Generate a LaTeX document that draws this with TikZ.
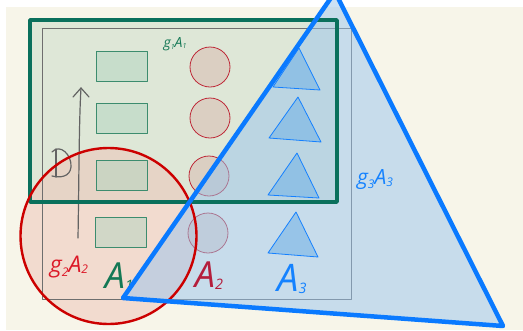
\documentclass[tikz,border=0pt]{standalone}
\usepackage{fontspec}
\newfontfamily\hand{Open Sans}
\definecolor{bgc}{RGB}{247,245,233}
\definecolor{grn}{RGB}{10,112,92}
\definecolor{grnfill}{RGB}{199,219,199}
\definecolor{redc}{RGB}{204,0,0}
\definecolor{redfill}{RGB}{239,195,183}
\definecolor{bluec}{RGB}{10,122,255}
\definecolor{bluefill}{RGB}{153,197,237}
\definecolor{srect}{RGB}{60,140,110}
\definecolor{srectfill}{RGB}{178,212,192}
\definecolor{scirc}{RGB}{190,40,55}
\definecolor{scircfill}{RGB}{217,184,174}
\definecolor{stri}{RGB}{20,128,255}
\definecolor{strifill}{RGB}{104,174,230}
\definecolor{grayline}{RGB}{110,110,110}
\definecolor{labgreen}{RGB}{20,120,85}
\definecolor{labred}{RGB}{220,25,40}
\definecolor{labdred}{RGB}{180,30,60}
\definecolor{labblue}{RGB}{20,130,255}
\begin{document}
\begin{tikzpicture}[x=1pt,y=-1pt,line join=round,
  bigrectfill/.style={fill=grnfill,fill opacity=0.5},
  bigrectline/.style={draw=grn,line width=3.5pt},
  grayrect/.style={draw=grayline,line width=0.9pt},
  bigcirc/.style={circle,fill=redfill,fill opacity=0.5,minimum size=176pt,inner sep=0pt},
  bigcircline/.style={draw=redc,line width=2.4pt},
  bigtrifill/.style={fill=bluefill,fill opacity=0.5},
  bigtriline/.style={draw=bluec,line width=4.5pt},
  srectst/.style={rectangle,draw=srect,line width=0.9pt,fill=srectfill,fill opacity=0.5,minimum width=51pt,minimum height=30pt,inner sep=0pt},
  scircst/.style={circle,draw=scirc,line width=0.8pt,fill=scircfill,fill opacity=0.5,minimum size=40pt,inner sep=0pt},
  stristyle/.style={draw=stri,line width=0.8pt,fill=strifill,fill opacity=0.5},
  sketch/.style={draw=grayline!90!black,line width=1.2pt,line cap=round},
  lab/.style={inner sep=0pt,font=\hand\itshape}]
\useasboundingbox (0,0) rectangle (523,330);
\clip (0,0) rectangle (523,330);
\fill[white] (0,0) rectangle (523,330);
\fill[bgc] (6,7) rectangle (523,330);
% key points
\coordinate (G1) at (30,20);
\coordinate (G2) at (337,202);
\coordinate (T1) at (123,298);
\coordinate (T2) at (503,326);
\coordinate (T3) at (335,-8);
% fills
\fill[bigrectfill] (G1) rectangle (G2);
\node[bigcirc] (bc) at (108.5,236) {};
% gray frame
\draw[grayrect] (42,28) rectangle (351,299);
% small rectangles
\node[srectst] (r1) at (122,66) {};
\node[srectst] (r2) at (122,118) {};
\node[srectst] (r3) at (122,175) {};
\node[srectst] (r4) at (121,232) {};
% small circles
\node[scircst] (c1) at (210,67) {};
\node[scircst] (c2) at (210,118) {};
\node[scircst] (c3) at (209,176) {};
\node[scircst] (c4) at (208,233) {};
% triangle fill
\fill[bigtrifill] (T1) -- (T2) -- (T3) -- cycle;
% small triangles
\draw[stristyle] (299,48) -- (320,90) -- (273,87) -- cycle;
\draw[stristyle] (298,97) -- (321,142) -- (269,138) -- cycle;
\draw[stristyle] (297,153) -- (319,198) -- (268,195) -- cycle;
\draw[stristyle] (296,212) -- (318,257) -- (268,253) -- cycle;
% sketch arrow and rotation mark
\coordinate (arrS) at (78,238);
\coordinate (arrE) at (81,88);
\draw[sketch] (arrS) .. controls (79,180) and (79,120) .. (arrE);
\draw[sketch] ([shift={(-8,9)}]arrE) -- (arrE) -- ([shift={(8,9)}]arrE);
\coordinate (rotA) at (56,149);
\coordinate (rotB) at (56,177);
\draw[sketch] (rotA) -- (rotB);
\draw[sketch] (52,152) .. controls (60,143) and (72,155) .. (71,167) .. controls (70,177) and (60,178) .. (52,176);
% labels
\node[lab,text=labgreen,font=\hand\itshape\fontsize{14}{14}\selectfont] (g1) at (175,44) {g\raisebox{-0.3ex}{\scriptsize 1}A\raisebox{-0.1ex}{\scriptsize 1}};
\node[lab,text=labred,font=\hand\itshape\fontsize{23}{23}\selectfont] (g2) at (69,267) {g\raisebox{-0.3ex}{\large 2}A\raisebox{-0.1ex}{\large 2}};
\node[lab,text=labgreen,font=\hand\itshape\fontsize{36}{36}\selectfont] (a1) at (119,277) {A\raisebox{-0.1ex}{\Large 1}};
\node[lab,text=labdred,font=\hand\itshape\fontsize{36}{36}\selectfont] (a2) at (209,276) {A\raisebox{-0.1ex}{\Large 2}};
\node[lab,text=labblue,font=\hand\itshape\fontsize{38}{38}\selectfont] (a3) at (292,279) {A\raisebox{-0.1ex}{\Large 3}};
\node[lab,text=labblue,font=\hand\itshape\fontsize{21}{21}\selectfont] (g3) at (375,180) {g\raisebox{-0.3ex}{\large 3}A\raisebox{-0.1ex}{\large 3}};
% outlines
\draw[bigrectline] (G1) rectangle (G2);
\draw[bigcircline] (bc.center) circle[radius=88];
\draw[bigtriline] (T1) -- (T2) -- (T3) -- cycle;
\end{tikzpicture}
\end{document}
